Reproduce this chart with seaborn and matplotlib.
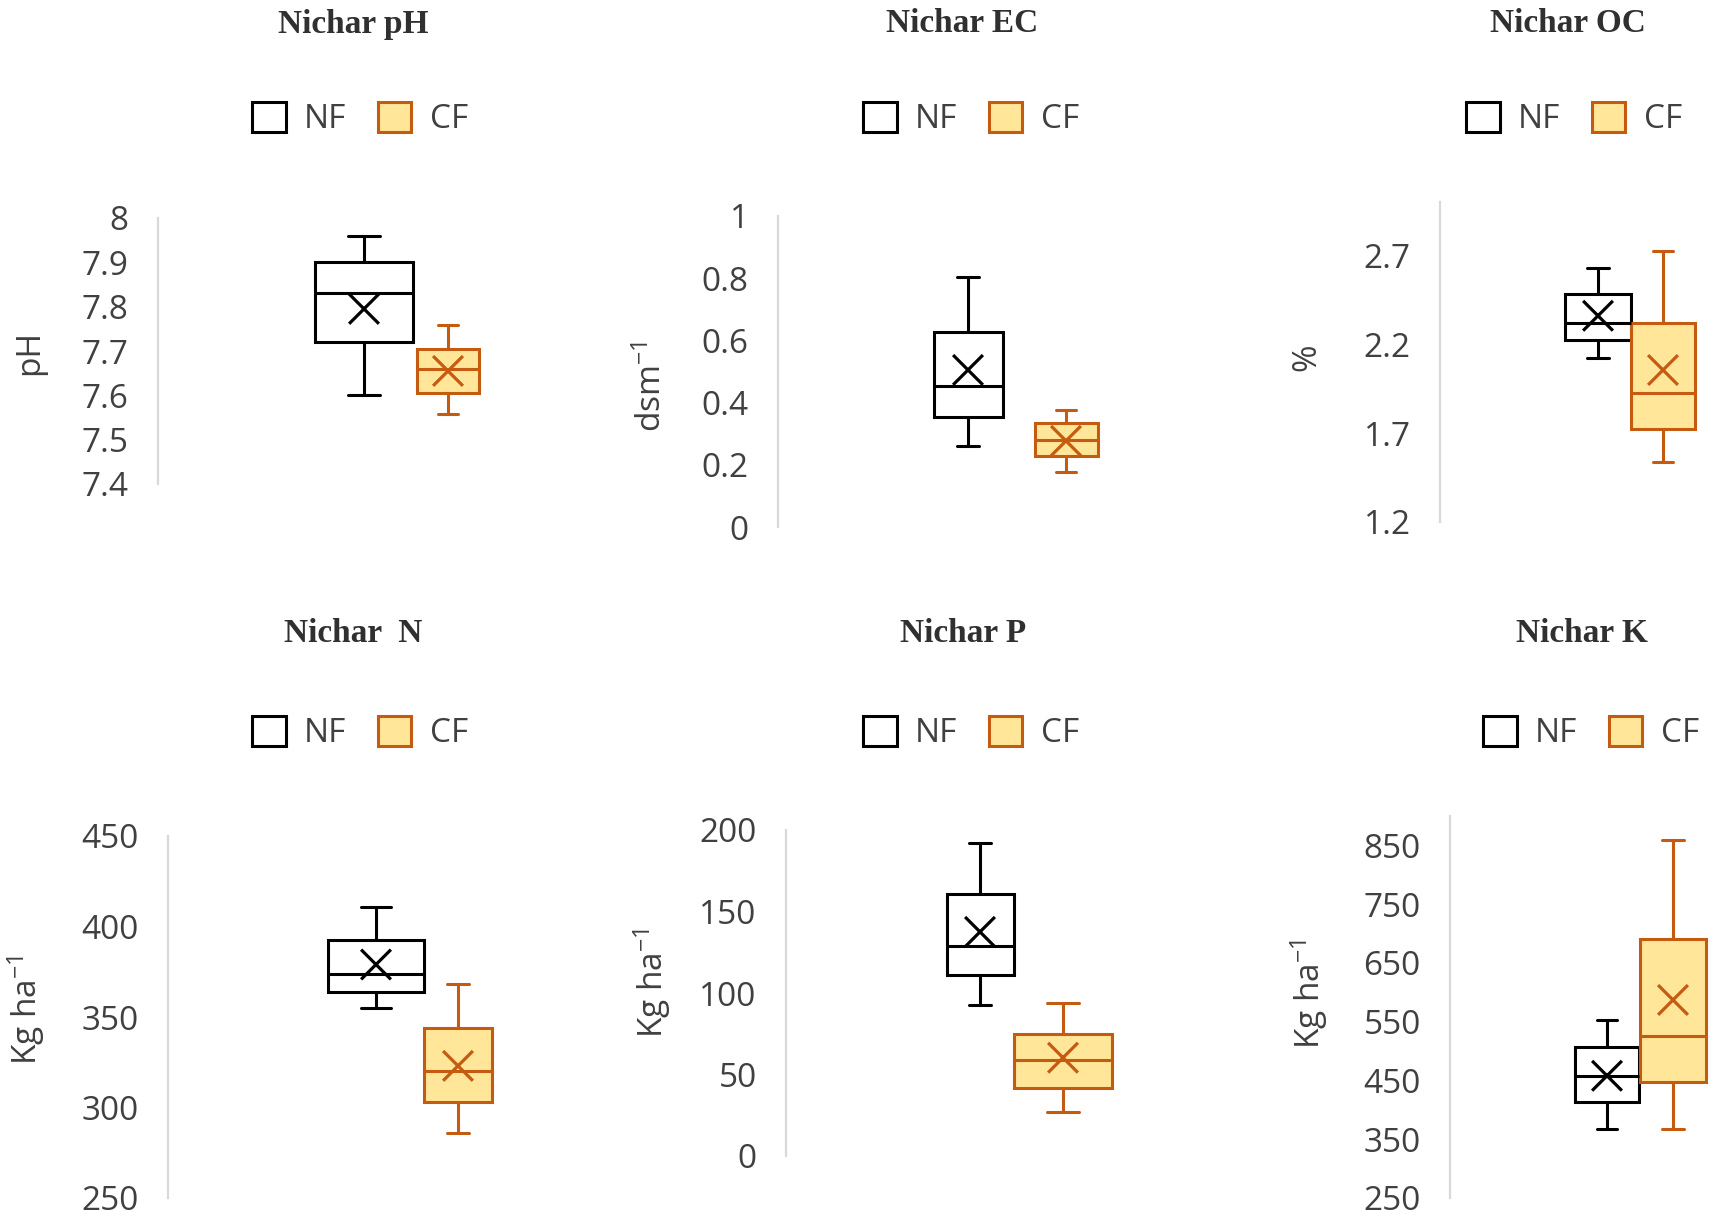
import matplotlib
matplotlib.use("Agg")
import matplotlib.pyplot as plt
import seaborn as sns
import pandas as pd
from matplotlib.patches import Patch

# ------------------------------------------------------------------ data
groups = ["NF", "CF"]
titles = ["Nichar pH", "Nichar EC", "Nichar OC", "Nichar  N", "Nichar P", "Nichar K"]
ylabels = ["pH", r"dsm$^{-1}$", "%", r"Kg ha$^{-1}$", r"Kg ha$^{-1}$", r"Kg ha$^{-1}$"]

# [whisker low, Q1, median, mean, Q3, whisker high]
nf_ph = [7.60, 7.72, 7.83, 7.795, 7.90, 7.96]
cf_ph = [7.558, 7.605, 7.66, 7.655, 7.705, 7.758]
nf_ec = [0.262, 0.354, 0.452, 0.505, 0.628, 0.805]
cf_ec = [0.178, 0.228, 0.28, 0.277, 0.336, 0.376]
nf_oc = [2.12, 2.225, 2.32, 2.36, 2.48, 2.63]
cf_oc = [1.535, 1.725, 1.925, 2.055, 2.32, 2.725]
nf_n = [355, 364, 374, 379, 392.5, 411]
cf_n = [286, 303, 320, 323, 344, 368]
nf_p = [92.5, 110.8, 129, 137.5, 160.5, 192]
cf_p = [27, 41.5, 58.8, 60.3, 74.8, 94]
nf_k = [367, 414, 458, 458, 507, 553]
cf_k = [367, 448, 525, 587, 691, 860]

ticks_ph = [7.4, 7.5, 7.6, 7.7, 7.8, 7.9, 8.0]
labels_ph = ["7.4", "7.5", "7.6", "7.7", "7.8", "7.9", "8"]
ticks_ec = [0, 0.2, 0.4, 0.6, 0.8, 1.0]
labels_ec = ["0", "0.2", "0.4", "0.6", "0.8", "1"]
ticks_oc = [1.2, 1.7, 2.2, 2.7]
labels_oc = ["1.2", "1.7", "2.2", "2.7"]
ticks_n = [250, 300, 350, 400, 450]
labels_n = ["250", "300", "350", "400", "450"]
ticks_p = [0, 50, 100, 150, 200]
labels_p = ["0", "50", "100", "150", "200"]
ticks_k = [250, 350, 450, 550, 650, 750, 850]
labels_k = ["250", "350", "450", "550", "650", "750", "850"]

panels = [
    (nf_ph, cf_ph, ticks_ph, labels_ph, (7.4, 8.0)),
    (nf_ec, cf_ec, ticks_ec, labels_ec, (0, 1.0)),
    (nf_oc, cf_oc, ticks_oc, labels_oc, (1.2, 3.0)),
    (nf_n, cf_n, ticks_n, labels_n, (250, 450)),
    (nf_p, cf_p, ticks_p, labels_p, (0, 200)),
    (nf_k, cf_k, ticks_k, labels_k, (250, 900)),
]

# ------------------------------------------------------------------ layout (pixels)
W, H = 1713, 1219
# axis_x, right_x, top_px, bottom_px, NF centre, NF width, CF centre, CF width,
# title (x, y), legend (x, y), ylabel (x, y)
layout = [
    (158, 540, 218, 484, 364, 98, 448, 62, (353, 24), (360, 119), (30, 352)),
    (778, 1150, 216, 527, 968, 69, 1066, 63, (962, 24), (971, 119), (652, 386)),
    (1440, 1713, 202, 522, 1598, 66, 1663, 64, (1568, 24), (1574, 119), (1307, 357)),
    (168, 540, 836, 1198, 376, 96, 458, 68, (353, 633), (360, 733), (26, 1010)),
    (786, 1150, 830, 1156, 980, 67, 1063, 98, (963, 633), (971, 733), (652, 983)),
    (1450, 1713, 816, 1198, 1607, 64, 1673, 66, (1582, 633), (1591, 733), (1309, 994)),
]

NF_EDGE, NF_FACE = "#000000", "#FFFFFF"
CF_EDGE, CF_FACE = "#C55A11", "#FFE699"
TEXT = "#404040"

sns.set_theme(style="white")
plt.rcParams["font.family"] = ["Open Sans", "DejaVu Sans"]
plt.rcParams["mathtext.default"] = "regular"

fig = plt.figure(figsize=(W / 100, H / 100), dpi=100)

for (nf, cf, ticks, tlabels, ylim), lay, title, ylab in zip(panels, layout, titles, ylabels):
    ax_x, right_x, top_px, bot_px, cN, wN, cC, wC, tpos, lpos, ypos = lay
    ax = fig.add_axes([ax_x / W, 1 - bot_px / H, (right_x - ax_x) / W, (bot_px - top_px) / H])
    ax.set_facecolor("none")
    d = cC - cN
    ax.set_xlim((ax_x - cN) / d, (right_x - cN) / d)
    ax.set_ylim(*ylim)

    for pos, stats, width, edge, face in [
        (0, nf, wN / d, NF_EDGE, NF_FACE),
        (1, cf, wC / d, CF_EDGE, CF_FACE),
    ]:
        lo, q1, med, mean, q3, hi = stats
        bstat = [dict(whislo=lo, q1=q1, med=med, q3=q3, whishi=hi, mean=mean, fliers=[])]
        ax.bxp(bstat, positions=[pos], widths=[width], capwidths=[width * 0.32],
               patch_artist=True, showfliers=False, showmeans=False,
               boxprops=dict(facecolor=face, edgecolor=edge, linewidth=2.2),
               medianprops=dict(color=edge, linewidth=2.2),
               whiskerprops=dict(color=edge, linewidth=2.2),
               capprops=dict(color=edge, linewidth=2.2), manage_ticks=False, zorder=2)

    means = pd.DataFrame({"x": [0, 1], "mean": [nf[3], cf[3]], "group": groups})
    sns.scatterplot(data=means, x="x", y="mean", hue="group", palette=[NF_EDGE, CF_EDGE],
                    marker="x", s=460, linewidth=2.3, legend=False, ax=ax, zorder=3)

    ax.set_xlabel("")
    ax.set_ylabel("")
    ax.set_xticks([])
    ax.set_yticks(ticks)
    ax.set_yticklabels(tlabels)
    ax.tick_params(axis="y", length=0, pad=21, labelsize=24, labelcolor=TEXT)
    sns.despine(ax=ax, top=True, right=True, bottom=True, left=False)
    ax.spines["left"].set_color("#D9D9D9")
    ax.spines["left"].set_linewidth(1.6)
    ax.grid(False)

    fig.text(tpos[0] / W, 1 - tpos[1] / H, title, ha="center", va="center",
             fontsize=24, fontweight="bold",
             family=["Liberation Serif", "DejaVu Serif"], color="#303030")
    fig.text(ypos[0] / W, 1 - ypos[1] / H, ylab, ha="center", va="center",
             rotation=90, fontsize=24, color=TEXT)

    handles = [Patch(facecolor=NF_FACE, edgecolor=NF_EDGE, linewidth=2.2, label="NF"),
               Patch(facecolor=CF_FACE, edgecolor=CF_EDGE, linewidth=2.2, label="CF")]
    leg = fig.legend(handles=handles, loc="center", ncol=2, frameon=False,
                     bbox_to_anchor=(lpos[0] / W, 1 - lpos[1] / H),
                     bbox_transform=fig.transFigure, fontsize=24,
                     handlelength=1.0, handleheight=1.0, handletextpad=0.55,
                     columnspacing=0.95, borderpad=0, borderaxespad=0)
    for t in leg.get_texts():
        t.set_color(TEXT)

fig.savefig("out.png", dpi=100)
